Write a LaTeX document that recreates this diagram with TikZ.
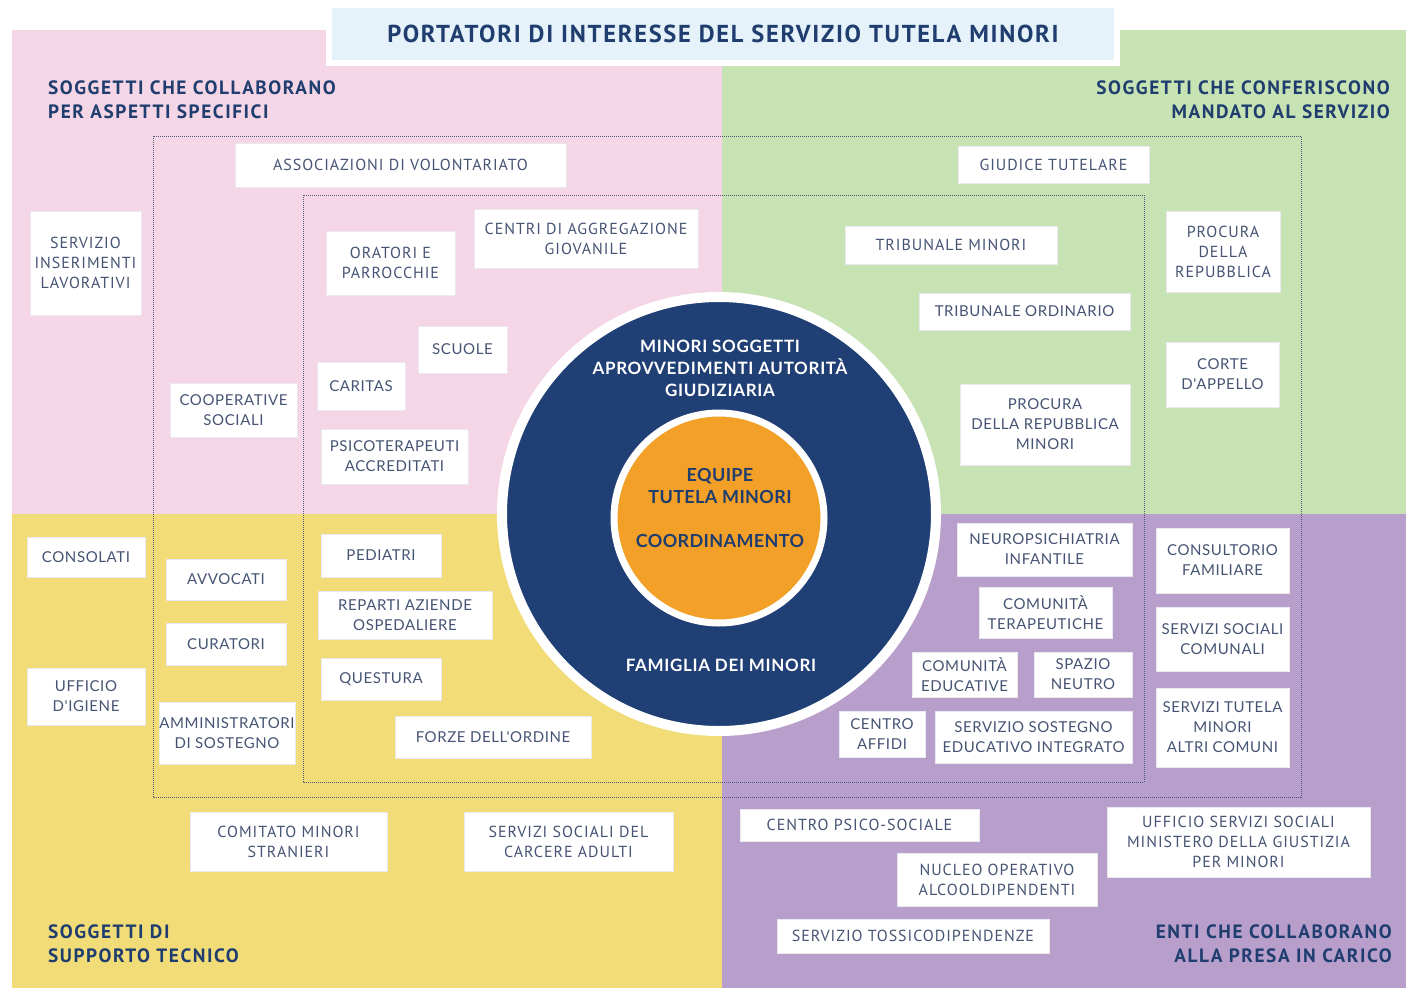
\documentclass[tikz,border=0pt]{standalone}
\usepackage{fontspec}
\setmainfont{PT Sans}
\newfontfamily\hdrfont[LetterSpace=8]{PT Sans}
\newfontfamily\titlefont[LetterSpace=7]{PT Sans}
\newfontfamily\boxafont[LetterSpace=6]{PT Sans}
\newfontfamily\boxbfont[LetterSpace=4]{Lato}
\newfontfamily\circfont[LetterSpace=4]{Lato}
\newfontfamily\orfont[LetterSpace=2]{Lato}
\definecolor{pinkbg}{RGB}{244,214,230}
\definecolor{greenbg}{RGB}{199,226,179}
\definecolor{yellowbg}{RGB}{242,220,120}
\definecolor{purplebg}{RGB}{184,159,203}
\definecolor{titlebg}{RGB}{230,242,249}
\definecolor{navy}{RGB}{31,61,110}
\definecolor{circblue}{RGB}{31,63,117}
\definecolor{orangec}{RGB}{242,160,39}
\definecolor{boxtext}{RGB}{70,84,116}
\definecolor{boxline}{RGB}{232,232,238}
\definecolor{dotc}{RGB}{80,90,120}
\newcommand\bx[7]{\node[#6, minimum width={(#4-#2)*1pt}, minimum height={(#5-#3)*1pt}] (#1) at ({(#2+#4)/2},{(#3+#5)/2}) {#7};}
\begin{document}
\begin{tikzpicture}[x=1pt,y=-1pt,
  boxa/.style={fill=white, draw=boxline, line width=0.8pt, inner sep=0pt, align=center, text=boxtext, font=\boxafont\fontsize{16}{20}\selectfont},
  boxb/.style={boxa, font=\boxbfont\fontsize{15}{20}\selectfont},
  hdr/.style={inner sep=0pt, text=navy, font=\hdrfont\bfseries\fontsize{19.3}{24}\selectfont},
  ctext/.style={inner sep=0pt, align=center, text=white, font=\circfont\bfseries\fontsize{17}{22}\selectfont},
  otext/.style={inner sep=0pt, align=center, text=navy, font=\orfont\bfseries\fontsize{18}{22}\selectfont},
  dotframe/.style={draw=dotc, line width=1pt, dash pattern=on 1pt off 1pt}]
\useasboundingbox (0,0) rectangle (1406,988);
\fill[white] (0,0) rectangle (1406,988);
% quadrants
\fill[pinkbg] (12,30) rectangle (722,514);
\fill[greenbg] (722,30) rectangle (1406,514);
\fill[yellowbg] (12,514) rectangle (722,988);
\fill[purplebg] (722,514) rectangle (1406,988);
% title
\fill[white] (326,2) rectangle (1120,66);
\node[fill=titlebg, minimum width=782pt, minimum height=52pt, inner sep=0pt, text=navy, font=\titlefont\bfseries\fontsize{24.5}{30}\selectfont] (title) at (723,34) {PORTATORI DI INTERESSE DEL SERVIZIO TUTELA MINORI};
% headers
\node[hdr, align=left, anchor=west] (h1) at (48,100) {SOGGETTI CHE COLLABORANO\\PER ASPETTI SPECIFICI};
\node[hdr, align=right, anchor=east] (h2) at (1390,100) {SOGGETTI CHE CONFERISCONO\\MANDATO AL SERVIZIO};
\node[hdr, align=left, anchor=west] (h3) at (48,944) {SOGGETTI DI\\SUPPORTO TECNICO};
\node[hdr, align=right, anchor=east] (h4) at (1392,944) {ENTI CHE COLLABORANO\\ALLA PRESA IN CARICO};
% dotted frames
\draw[dotframe] (153,136) rectangle (1301,797);
\draw[dotframe] (303,195) rectangle (1144,782);
% circles
\node[circle, fill=circblue, draw=white, line width=10pt, minimum size=434pt, inner sep=0pt] (outer) at (719,514) {};
\node[circle, fill=orangec, draw=white, line width=7pt, minimum size=210pt, inner sep=0pt] (inner) at (719,518) {};
\node[ctext] (minori) at (720,368) {MINORI SOGGETTI\\APROVVEDIMENTI AUTORITÀ\\GIUDIZIARIA};
\node[otext] (equipe) at (720,508) {EQUIPE\\TUTELA MINORI\\[22pt]COORDINAMENTO};
\node[ctext] (famiglia) at (721,665) {FAMIGLIA DEI MINORI};
% pink quadrant
\bx{assoc}{235}{143}{566}{187}{boxa}{ASSOCIAZIONI DI VOLONTARIATO}
\bx{sil}{30}{211}{141}{315}{boxa}{SERVIZIO\\INSERIMENTI\\LAVORATIVI}
\bx{oratori}{326}{231}{455}{295}{boxa}{ORATORI E\\PARROCCHIE}
\bx{centri}{474}{209}{698}{268}{boxa}{CENTRI DI AGGREGAZIONE\\GIOVANILE}
\bx{scuole}{418}{326}{507}{373}{boxb}{SCUOLE}
\bx{caritas}{317}{362}{405}{410}{boxb}{CARITAS}
\bx{coop}{170}{383}{297}{437}{boxb}{COOPERATIVE\\SOCIALI}
\bx{psico}{321}{429}{468}{484}{boxb}{PSICOTERAPEUTI\\ACCREDITATI}
% yellow quadrant
\bx{consolati}{27}{537}{145}{577}{boxb}{CONSOLATI}
\bx{avvocati}{166}{559}{286}{600}{boxb}{AVVOCATI}
\bx{curatori}{166}{623}{286}{665}{boxb}{CURATORI}
\bx{amm}{159}{702}{295}{764}{boxb}{AMMINISTRATORI\\DI SOSTEGNO}
\bx{igiene}{27}{668}{145}{725}{boxb}{UFFICIO\\D'IGIENE}
\bx{pediatri}{321}{534}{441}{577}{boxb}{PEDIATRI}
\bx{reparti}{318}{591}{492}{639}{boxb}{REPARTI AZIENDE\\OSPEDALIERE}
\bx{questura}{321}{658}{441}{700}{boxb}{QUESTURA}
\bx{forze}{395}{716}{591}{758}{boxb}{FORZE DELL'ORDINE}
\bx{comitato}{190}{812}{387}{871}{boxa}{COMITATO MINORI\\STRANIERI}
\bx{carcere}{464}{812}{673}{871}{boxa}{SERVIZI SOCIALI DEL\\CARCERE ADULTI}
% green quadrant
\bx{giudice}{958}{146}{1149}{183}{boxa}{GIUDICE TUTELARE}
\bx{tribmin}{845}{226}{1057}{264}{boxa}{TRIBUNALE MINORI}
\bx{procura}{1166}{211}{1280}{292}{boxa}{PROCURA\\DELLA\\REPUBBLICA}
\bx{tribord}{919}{293}{1130}{330}{boxb}{TRIBUNALE ORDINARIO}
\bx{corte}{1166}{342}{1279}{407}{boxb}{CORTE\\D'APPELLO}
\bx{procmin}{960}{384}{1130}{465}{boxb}{PROCURA\\DELLA REPUBBLICA\\MINORI}
% purple quadrant
\bx{neuro}{957}{523}{1132}{576}{boxb}{NEUROPSICHIATRIA\\INFANTILE}
\bx{comter}{979}{587}{1112}{638}{boxb}{COMUNITÀ\\TERAPEUTICHE}
\bx{comedu}{912}{652}{1017}{697}{boxb}{COMUNITÀ\\EDUCATIVE}
\bx{spazio}{1034}{652}{1132}{697}{boxb}{SPAZIO\\NEUTRO}
\bx{affidi}{839}{711}{925}{757}{boxb}{CENTRO\\AFFIDI}
\bx{sostegno}{935}{711}{1132}{763}{boxb}{SERVIZIO SOSTEGNO\\EDUCATIVO INTEGRATO}
\bx{consult}{1156}{528}{1289}{593}{boxb}{CONSULTORIO\\FAMILIARE}
\bx{sscom}{1156}{607}{1289}{671}{boxb}{SERVIZI SOCIALI\\COMUNALI}
\bx{stma}{1156}{688}{1289}{767}{boxb}{SERVIZI TUTELA\\MINORI\\ALTRI COMUNI}
\bx{cps}{740}{809}{979}{841}{boxa}{CENTRO PSICO-SOCIALE}
\bx{nucleo}{897}{853}{1097}{906}{boxa}{NUCLEO OPERATIVO\\ALCOOLDIPENDENTI}
\bx{uepe}{1107}{807}{1370}{877}{boxa}{UFFICIO SERVIZI SOCIALI\\MINISTERO DELLA GIUSTIZIA\\PER MINORI}
\bx{tossico}{777}{919}{1049}{953}{boxa}{SERVIZIO TOSSICODIPENDENZE}
\end{tikzpicture}
\end{document}
